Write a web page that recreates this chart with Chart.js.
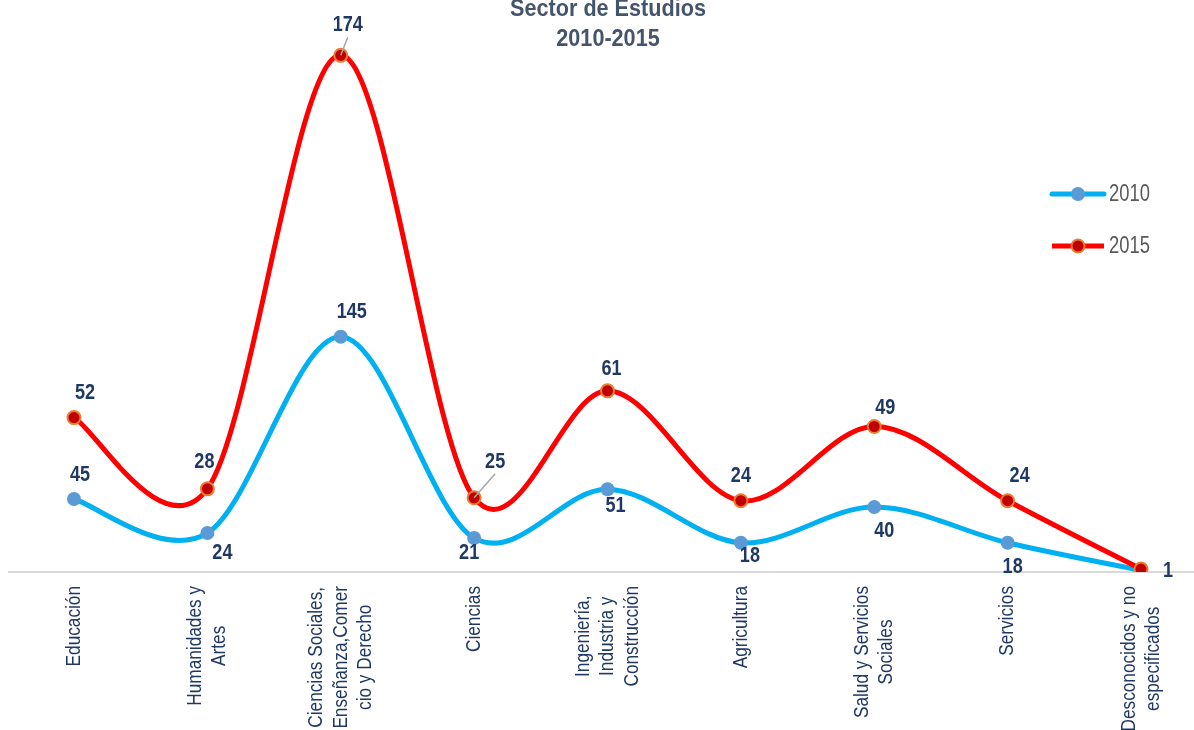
<!DOCTYPE html>
<html>
<head>
<meta charset="utf-8">
<script src="https://cdn.jsdelivr.net/npm/chart.js@4"></script>
<style>
  html, body { margin: 0; padding: 0; background: #fff; }
  #wrap { width: 1194px; height: 730px; }
</style>
</head>
<body>
<div id="wrap"><canvas id="chart"></canvas></div>
<script>
// data
const categories = [
  ['Educación'],
  ['Humanidades y', 'Artes'],
  ['Ciencias Sociales,', 'Enseñanza,Comer', 'cio y Derecho'],
  ['Ciencias'],
  ['Ingeniería,', 'Industria y', 'Construcción'],
  ['Agricultura'],
  ['Salud y Servicios', 'Sociales'],
  ['Servicios'],
  ['Desconocidos y no', 'especificados']
];
const seriesNames = ['2010', '2015'];
const values2010 = [45, 24, 145, 21, 51, 18, 40, 18, 1];
const values2015 = [52, 28, 174, 25, 61, 24, 49, 24, 1];
const titleLines = ['Sector de Estudios', '2010-2015'];

// label offsets from each point (dx, dy), null = no label
const offsets2010 = [[6, -25], [15, 19], [11, -26], [-5, 14], [8, 16], [9, 12], [10, 23], [5, 23], null];
const offsets2015 = [[11, -26], [-3, -28], [7, -31], [21, -37], [4, -23], [0, -26], [11, -20], [12, -26], [27, 1]];
const leaders2015 = [false, false, true, true, false, false, false, false, false];

const FONT = '"Liberation Sans", Arial, sans-serif';
const KX = 0.82; // squeeze Liberation Sans to look like Arial Narrow
const NAVY = '#1F3864';

function narrowText(ctx, text, x, y, font, color, align, kx) {
  ctx.save();
  ctx.font = font;
  ctx.fillStyle = color;
  ctx.textAlign = align;
  ctx.translate(x, y);
  ctx.scale(kx, 1);
  ctx.fillText(text, 0, 0);
  ctx.restore();
}

// Excel-like smoothing (Catmull-Rom, 1/6 of the chord) on the library's points
const excelSmooth = {
  id: 'excelSmooth',
  beforeDatasetsDraw(chart) {
    chart.data.datasets.forEach((ds, di) => {
      const meta = chart.getDatasetMeta(di);
      const line = meta.dataset;
      line.updateControlPoints(chart.chartArea, meta.iScale.axis);
      const pts = line.points;
      pts.forEach((p, i) => {
        const prev = pts[i - 1] || p;
        const next = pts[i + 1] || p;
        const dx = (next.x - prev.x) / 6;
        const dy = (next.y - prev.y) / 6;
        p.cp1x = p.x - dx; p.cp1y = p.y - dy;
        p.cp2x = p.x + dx; p.cp2y = p.y + dy;
      });
      line._path = undefined;
    });
  }
};

const overlay = {
  id: 'overlay',
  beforeDatasetsDraw(chart) {
    const ctx = chart.ctx;
    const y0 = chart.scales.y.getPixelForValue(0);
    ctx.save();
    ctx.strokeStyle = '#D9D9D9';
    ctx.lineWidth = 2;
    ctx.beginPath();
    ctx.moveTo(8, y0);
    ctx.lineTo(chart.width, y0);
    ctx.stroke();
    ctx.restore();
  },
  afterDatasetsDraw(chart) {
    const ctx = chart.ctx;
    ctx.save();
    ctx.textBaseline = 'middle';
    chart.data.datasets.forEach((ds, di) => {
      const meta = chart.getDatasetMeta(di);
      meta.data.forEach((pt, i) => {
        const off = ds.labelOffsets[i];
        if (!off) return;
        const lx = pt.x + off[0], ly = pt.y + off[1];
        if (ds.leaders && ds.leaders[i]) {
          ctx.strokeStyle = '#A6A6A6';
          ctx.lineWidth = 1.5;
          ctx.beginPath();
          ctx.moveTo(lx, ly + 13);
          ctx.lineTo(pt.x, pt.y);
          ctx.stroke();
        }
        narrowText(ctx, String(ds.data[i]), lx, ly + 1, 'bold 22px ' + FONT, NAVY, 'center', KX);
      });
    });
    ctx.restore();
  },
  afterDraw(chart) {
    const ctx = chart.ctx;
    ctx.save();

    // category labels, rotated and centred per block
    const xs = chart.scales.x;
    ctx.font = '21px ' + FONT;
    ctx.fillStyle = NAVY;
    ctx.textAlign = 'center';
    ctx.textBaseline = 'middle';
    xs.ticks.forEach((t, i) => {
      const lines = [].concat(chart.data.labels[i]);
      const block = Math.max(...lines.map(l => ctx.measureText(l).width)) * KX;
      ctx.save();
      ctx.translate(xs.getPixelForTick(i), xs.top + 14);
      ctx.rotate(-Math.PI / 2);
      ctx.scale(KX, 1);
      lines.forEach((l, j) => {
        ctx.fillText(l, -block / 2 / KX, (j - (lines.length - 1) / 2) * 24.5);
      });
      ctx.restore();
    });

    // title
    ctx.textBaseline = 'alphabetic';
    narrowText(ctx, titleLines[0], 608, 16, 'bold 23px ' + FONT, '#44546A', 'center', 0.94);
    narrowText(ctx, titleLines[1], 608, 46, 'bold 23px ' + FONT, '#44546A', 'center', 0.94);

    // legend
    chart.data.datasets.forEach((ds) => {
      const idx = seriesNames.indexOf(ds.label);
      const ly = idx === 0 ? 194 : 246;
      ctx.strokeStyle = ds.borderColor;
      ctx.lineWidth = 5;
      ctx.lineCap = idx === 0 ? 'round' : 'butt';
      ctx.beginPath();
      ctx.moveTo(1052, ly);
      ctx.lineTo(1104, ly);
      ctx.stroke();
      ctx.beginPath();
      ctx.arc(1078, ly, ds.pointRadius, 0, Math.PI * 2);
      ctx.fillStyle = ds.pointBackgroundColor;
      ctx.fill();
      if (ds.pointBorderWidth) {
        ctx.lineWidth = ds.pointBorderWidth;
        ctx.strokeStyle = ds.pointBorderColor;
        ctx.stroke();
      }
      ctx.textBaseline = 'middle';
      narrowText(ctx, ds.label, 1109, ly + 1, '23px ' + FONT, '#595959', 'left', 0.8);
    });
    ctx.restore();
  }
};

new Chart(document.getElementById('chart'), {
  type: 'line',
  data: {
    labels: categories,
    datasets: [
      {
        label: seriesNames[1],
        data: values2015,
        yAxisID: 'y1',
        order: 0,
        borderColor: '#FF0000',
        borderWidth: 5,
        tension: 0.4,
        pointRadius: 6.5,
        pointBackgroundColor: '#C00000',
        pointBorderColor: '#ED7D31',
        pointBorderWidth: 2,
        labelOffsets: offsets2015,
        leaders: leaders2015
      },
      {
        label: seriesNames[0],
        data: values2010,
        yAxisID: 'y',
        order: 1,
        borderColor: '#00B0F0',
        borderWidth: 5,
        tension: 0.4,
        pointRadius: 7,
        pointBackgroundColor: '#5B9BD5',
        pointBorderColor: '#5B9BD5',
        pointBorderWidth: 0,
        labelOffsets: offsets2010
      }
    ]
  },
  options: {
    responsive: true,
    maintainAspectRatio: false,
    animation: false,
    layout: { padding: { left: 74, right: 53, top: 20, bottom: 0 } },
    plugins: {
      legend: { display: false },
      title: { display: false },
      tooltip: { enabled: false }
    },
    scales: {
      x: {
        offset: false,
        grid: { display: false },
        border: { display: false },
        ticks: { display: false, autoSkip: false },
        afterFit(scale) { scale.height = 158; }
      },
      y: { display: false, min: 0, max: 340.3 },
      y1: { display: false, position: 'right', min: 0, max: 185.9 }
    }
  },
  plugins: [excelSmooth, overlay]
});
</script>
</body>
</html>
